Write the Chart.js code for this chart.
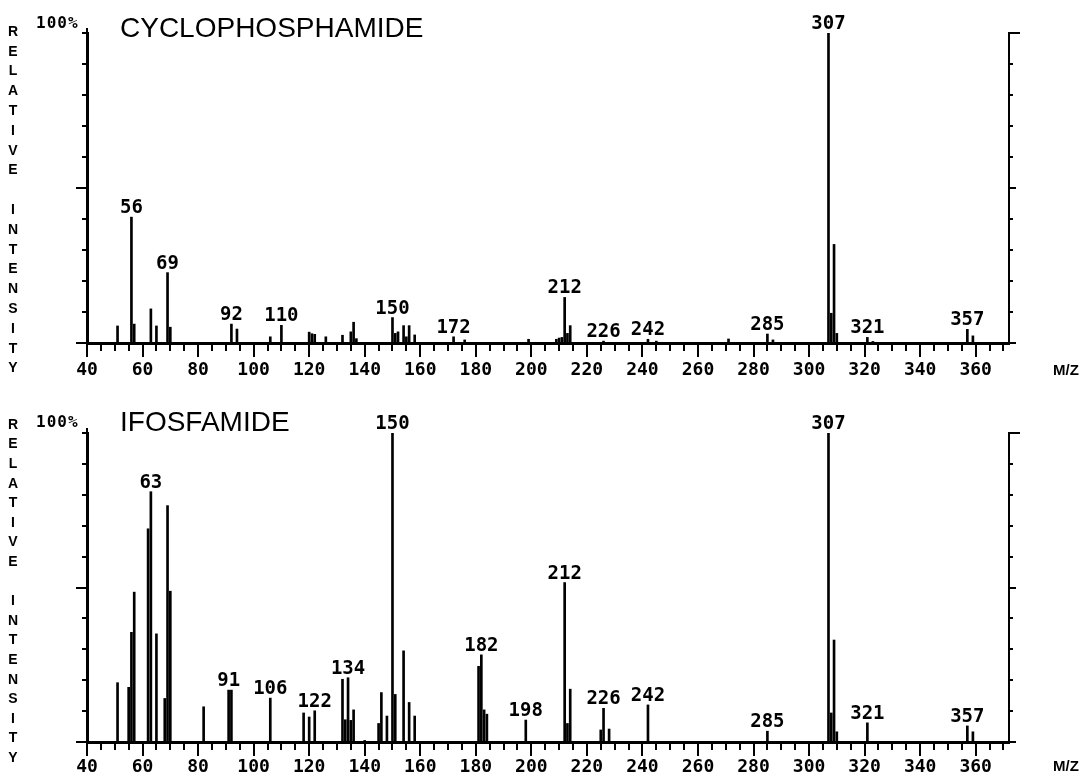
<!DOCTYPE html>
<html>
<head>
<meta charset="utf-8">
<script src="https://cdn.jsdelivr.net/npm/chart.js@4.4.1/dist/chart.umd.min.js"></script>
<style>
  body { margin: 0; background: #fff; }
  .panel { position: absolute; left: 0; width: 1091px; height: 388px; }
</style>
</head>
<body>
<div class="panel" style="top:0"><canvas id="chart-cyclo" width="1091" height="388"></canvas></div>
<div class="panel" style="top:388px"><canvas id="chart-ifos" width="1091" height="388"></canvas></div>
<script>
// ========================================
// Spectrum data
// ========================================

// Cyclophosphamide: m/z and relative intensity (%)
const cycloMz = [51, 56, 57, 63, 65, 69, 70, 92, 94, 106, 110, 120, 121, 122, 126, 132, 135, 136, 137,
    150, 151, 152, 154, 155, 156, 158, 172, 176, 199, 209, 210, 211, 212, 213, 214, 226, 242, 245,
    271, 285, 287, 307, 308, 309, 310, 321, 323, 357, 359];
const cycloIntensity = [5.5, 40.6, 6.1, 11, 5.5, 22.7, 5.1, 6.1, 4.5, 2, 5.7, 3.5, 3.0, 2.8, 2, 2.5, 3.6, 6.7, 1.4,
    8.2, 3.1, 3.6, 5.6, 2, 5.6, 2.6, 2, 1, 1.2, 1.2, 1.6, 1.8, 14.7, 3.1, 5.6, 0.6, 1.2, 0.6,
    1.3, 2.9, 1, 100, 9.6, 31.8, 3.1, 1.8, 0.5, 4.4, 2.3];
const cycloLabeled = [56, 69, 92, 110, 150, 172, 212, 226, 242, 285, 307, 321, 357];

// Ifosfamide
const ifosMz = [51, 55, 56, 57, 62, 63, 65, 68, 69, 70, 82, 91, 92, 106, 118, 120, 122, 132, 133, 134, 135, 136,
    140, 145, 146, 148, 150, 151, 154, 156, 158, 181, 182, 183, 184, 198, 212, 213, 214, 225, 226, 228, 242,
    285, 307, 308, 309, 310, 321, 357, 359];
const ifosIntensity = [19.2, 17.7, 35.5, 48.5, 69, 81, 35, 14.1, 76.5, 48.8, 11.4, 16.8, 16.8, 14.2, 9.4, 8.1, 10.1, 20.3, 7.2, 20.8, 7.0, 10.4,
    0.5, 6, 16, 8.4, 100, 15.4, 29.5, 12.8, 8.4, 24.5, 28.2, 10.4, 9, 7.1, 51.6, 6, 17.1, 3.9, 10.9, 4.2, 12,
    3.5, 100, 9.4, 33, 3.3, 6.2, 5.2, 3.3];
const ifosLabeled = [63, 91, 106, 122, 134, 150, 182, 198, 212, 226, 242, 285, 307, 321, 357];

// Axis setup
const mzMin = 40;
const mzMax = 372;
const mzMinorStep = 5;
const mzLabelStep = 20;
const intensityStep = 10;
const yAxisLetters = 'RELATIVE INTENSITY';

const MONO = '"DejaVu Sans Mono", monospace';
const SANS = '"Liberation Sans", Arial, sans-serif';

/**
 * Extra decorations: minor ticks, peak labels, titles
 */
const spectrumDecor = {
    id: 'spectrumDecor',
    afterDraw(chart, args, opts) {
        const ctx = chart.ctx;
        const { left, right, top, bottom } = chart.chartArea;
        const x = chart.scales.x;
        const y = chart.scales.y;
        ctx.save();
        ctx.strokeStyle = '#000';
        ctx.fillStyle = '#000';
        ctx.lineWidth = 2;

        // minor m/z ticks
        ctx.beginPath();
        x.ticks.forEach(t => {
            if (t.value % mzLabelStep === 0) return;
            const px = Math.round(x.getPixelForValue(t.value));
            ctx.moveTo(px, bottom);
            ctx.lineTo(px, bottom + 8);
        });
        // minor intensity ticks, left and right frame
        y.ticks.forEach(t => {
            const py = Math.round(y.getPixelForValue(t.value));
            if (t.value !== 0 && t.value !== 50) {
                ctx.moveTo(left - 5, py);
                ctx.lineTo(left, py);
                ctx.moveTo(right, py);
                ctx.lineTo(right + (t.value === 100 ? 11 : 4), py);
            }
        });
        // left axis runs a little above 100%
        ctx.moveTo(left, top);
        ctx.lineTo(left, top - 5);
        ctx.stroke();

        // peak labels
        ctx.font = 'bold 19px ' + MONO;
        ctx.textAlign = 'center';
        ctx.textBaseline = 'alphabetic';
        opts.labeled.forEach(m => {
            const i = opts.mz.indexOf(m);
            const px = x.getPixelForValue(m);
            const py = y.getPixelForValue(opts.intensity[i]);
            ctx.fillText(String(m), px, py - 4);
        });

        // title and "100%"
        ctx.textAlign = 'left';
        ctx.font = '28px ' + SANS;
        ctx.fillText(opts.title, 120, opts.titleBase);
        ctx.font = 'bold 16px ' + MONO;
        ctx.letterSpacing = '1px';
        ctx.fillText('100%', 36, opts.pctBase);
        ctx.letterSpacing = '0px';

        // stacked y axis caption
        ctx.font = 'bold 14px ' + SANS;
        ctx.textAlign = 'center';
        ctx.textBaseline = 'middle';
        [...yAxisLetters].forEach((ch, i) => {
            ctx.fillText(ch, 13, opts.letterTop + i * opts.letterGap);
        });

        // M/Z caption
        ctx.font = 'bold 15px ' + SANS;
        ctx.fillText('M/Z', 1066, bottom + opts.mzCaptionOffset);
        ctx.restore();
    }
};

/**
 * Build one mass spectrum panel
 */
function createSpectrum(canvasId, mz, intensity, labeled, cfg) {
    const canvas = document.getElementById(canvasId);
    const points = mz.map((m, i) => ({ x: m, y: intensity[i] }));
    const majorY = v => (v === 0 || v === 50);

    return new Chart(canvas.getContext('2d'), {
        type: 'bar',
        data: {
            datasets: [{
                data: points,
                backgroundColor: '#000',
                borderWidth: 0,
                barThickness: 2
            }]
        },
        options: {
            responsive: false,
            animation: false,
            devicePixelRatio: 1,
            events: [],
            layout: { padding: { top: cfg.areaTop, left: 0, right: 0, bottom: 0 } },
            plugins: {
                legend: { display: false },
                title: { display: false },
                tooltip: { enabled: false },
                spectrumDecor: Object.assign({ mz, intensity, labeled }, cfg)
            },
            scales: {
                x: {
                    type: 'linear',
                    min: mzMin,
                    max: mzMax,
                    offset: false,
                    afterFit(scale) { scale.height = cfg.xHeight; },
                    border: { display: true, color: '#000', width: 3 },
                    grid: {
                        offset: false,
                        drawOnChartArea: false,
                        drawTicks: true,
                        tickLength: 14,
                        lineWidth: 2,
                        tickColor: c => (c.tick && c.tick.value % mzLabelStep === 0) ? '#000' : 'rgba(0,0,0,0)'
                    },
                    ticks: {
                        stepSize: mzMinorStep,
                        includeBounds: false,
                        autoSkip: false,
                        maxRotation: 0,
                        padding: cfg.tickPad,
                        color: '#000',
                        font: { family: MONO, size: 18, weight: 'bold' },
                        callback: v => (v % mzLabelStep === 0 ? String(v) : '')
                    }
                },
                y: {
                    type: 'linear',
                    position: 'left',
                    min: 0,
                    max: 100,
                    afterFit(scale) { scale.width = 87; },
                    border: { display: true, color: '#000', width: 3 },
                    grid: {
                        drawOnChartArea: false,
                        tickLength: 11,
                        lineWidth: 2,
                        tickColor: c => (c.tick && majorY(c.tick.value)) ? '#000' : 'rgba(0,0,0,0)'
                    },
                    ticks: { display: false, stepSize: intensityStep }
                },
                y2: {
                    type: 'linear',
                    position: 'right',
                    min: 0,
                    max: 100,
                    afterFit(scale) { scale.width = 1091 - 1009; },
                    border: { display: true, color: '#000', width: 2 },
                    grid: {
                        drawOnChartArea: false,
                        tickLength: 7,
                        lineWidth: 2,
                        tickColor: c => (c.tick && majorY(c.tick.value)) ? '#000' : 'rgba(0,0,0,0)'
                    },
                    ticks: { display: false, stepSize: intensityStep }
                }
            }
        },
        plugins: [spectrumDecor]
    });
}

createSpectrum('chart-cyclo', cycloMz, cycloIntensity, cycloLabeled, {
    title: 'CYCLOPHOSPHAMIDE',
    areaTop: 33, xHeight: 45, tickPad: 3,
    titleBase: 37, pctBase: 28,
    letterTop: 32, letterGap: 19.8,
    mzCaptionOffset: 28
});

createSpectrum('chart-ifos', ifosMz, ifosIntensity, ifosLabeled, {
    title: 'IFOSFAMIDE',
    areaTop: 45, xHeight: 34, tickPad: 1,
    titleBase: 43, pctBase: 39,
    letterTop: 37, letterGap: 19.6,
    mzCaptionOffset: 25
});
</script>
</body>
</html>
